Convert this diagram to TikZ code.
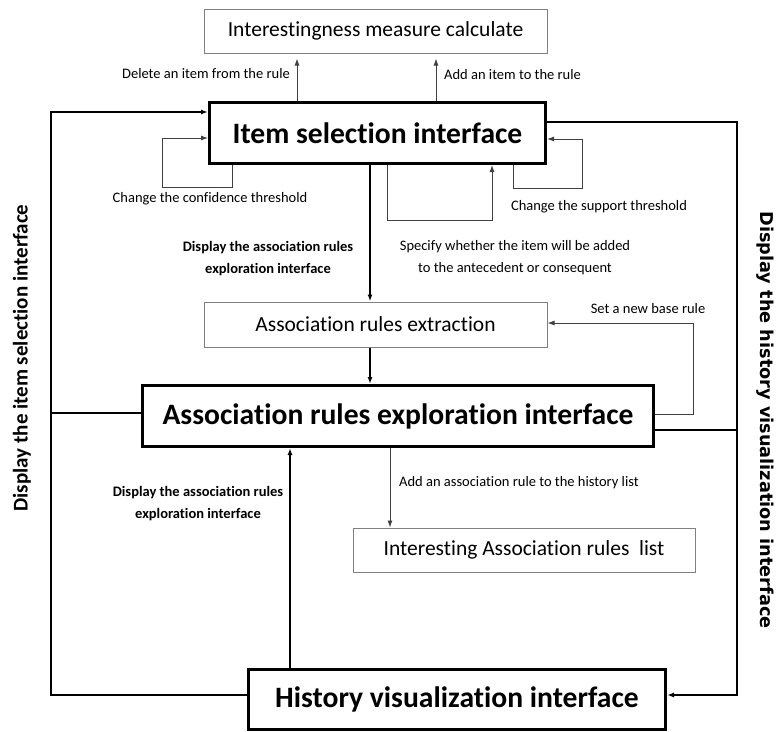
\documentclass[tikz,border=0pt]{standalone}
\usepackage{fontspec}
\setmainfont{Carlito}[Ligatures=NoCommon]
\newfontfamily\dv{DejaVu Sans}
\usetikzlibrary{arrows.meta}
\begin{document}
\begin{tikzpicture}[x=1pt,y=-1pt,
  thinbox/.style={draw=black!50,line width=1pt,inner sep=0pt,font=\fontsize{21.5}{26}\selectfont},
  thickbox/.style={draw=black,line width=3pt,inner sep=0pt,font=\fontsize{29.6}{34}\selectfont\bfseries},
  thinline/.style={draw=black!75,line width=0.9pt},
  thickline/.style={draw=black,line width=1.8pt},
  tip/.style={-{Latex[length=7pt,width=5pt]}},
  lbl/.style={font=\fontsize{14.5}{17}\selectfont,inner sep=0pt},
  blbl/.style={font=\fontsize{14.5}{22}\selectfont\bfseries,inner sep=0pt,align=center},
]
\useasboundingbox[fill=white] (0,0) rectangle (776,731);

% boxes
\node[thinbox,minimum width=343pt,minimum height=44pt] (IMC) at (375.5,31) {Interestingness measure calculate};
\node[thickbox,minimum width=336pt,minimum height=61pt] (ISI) at (377.5,133) {Item selection interface};
\node[thinbox,minimum width=343pt,minimum height=45pt] (ARX) at (375.5,324.5) {Association rules extraction};
\node[thickbox,minimum width=511pt,minimum height=61pt] (ARE) at (398,416) {Association rules exploration interface};
\node[thinbox,minimum width=342pt,minimum height=44pt] (IARL) at (524,550) {Interesting Association rules\ \ list};
\node[thickbox,minimum width=417pt,minimum height=60pt] (HVI) at (457,699) {\raisebox{4pt}{History visualization interface}};

% helper coordinates
\coordinate (xa) at (297,0);
\coordinate (xb) at (436,0);
\coordinate (yl) at (0,112);
\coordinate (yc) at (0,138);
\coordinate (ys) at (0,139);
\coordinate (yr) at (0,122);
\coordinate (ym) at (0,413);
\coordinate (yn) at (0,430);
\coordinate (yh) at (0,695);
\coordinate (ybr) at (0,323);
\coordinate (ybl) at (0,414);
\coordinate (xm) at (370,0);
\coordinate (xc) at (232,0);
\coordinate (xs) at (513,0);
\coordinate (xp) at (387,0);
\coordinate (xq) at (492,0);
\coordinate (xd) at (390,0);
\coordinate (xu) at (290,0);

% to interestingness
\draw[thinline,tip,shorten >=5pt] (ISI.north -| xa) -- (IMC.south -| xa);
\draw[thinline,tip,shorten >=5pt] (ISI.north -| xb) -- (IMC.south -| xb);
\node[lbl,anchor=east] (ldel) at (290,74) {Delete an item from the rule};
\node[lbl,anchor=west] (ladd) at (444,75) {Add an item to the rule};

% left big loop
\draw[thickline,tip] (HVI.west |- yh) -- (51,695) -- (51,112) -- (ISI.west |- yl);
\draw[thickline] (ARE.west |- ym) -- (51,413);
\node[font=\fontsize{21}{24}\selectfont\bfseries,rotate=90,inner sep=0pt] (lleft) at (22,358) {Display the item selection interface};

% right big loop
\draw[thickline,tip] (ISI.east |- yr) -- (737,122) -- (737,695) -- (HVI.east |- yh);
\draw[thickline] (ARE.east |- yn) -- (737,430);
\node[font=\fontsize{17.7}{20}\selectfont\dv\bfseries,rotate=-90,inner sep=0pt] (lright) at (765,420) {Display the history visualization interface};

% confidence loop
\draw[thinline,tip] (ISI.south -| xc) -- (232,187) -- (162,187) -- (162,138) -- (ISI.west |- yc);
\node[lbl] (lconf) at (210,199) {Change the confidence threshold};

% support loop
\draw[thinline,tip] (ISI.south -| xs) -- (513,188) -- (582,188) -- (582,139) -- (ISI.east |- ys);
\node[lbl] (lsup) at (599,207) {Change the support threshold};

% specify loop
\draw[thinline,tip] (ISI.south -| xp) -- (387,220) -- (492,220) -- (ISI.south -| xq);
\node[lbl,align=center,font=\fontsize{14.5}{22}\selectfont] (lspec) at (515,258) {Specify whether the item will be added\\to the antecedent or consequent};

% main flow
\draw[thickline,tip] (ISI.south -| xm) -- (ARX.north -| xm);
\node[blbl] (ldisp1) at (268,259) {Display the association rules\\exploration interface};
\draw[thickline,tip] (ARX.south -| xm) -- (ARE.north -| xm);

% base rule loop
\draw[thinline,tip] (ARE.east |- ybl) -- (693,414) -- (693,323) -- (ARX.east |- ybr);
\node[lbl] (lbase) at (648,309) {Set a new base rule};

% to history list
\draw[thinline,tip] (ARE.south -| xd) -- (IARL.north -| xd);
\node[lbl,anchor=west] (lhist) at (399,483) {Add an association rule to the history list};

% history to exploration
\draw[thickline,tip] (HVI.north -| xu) -- (ARE.south -| xu);
\node[blbl] (ldisp2) at (198,504) {Display the association rules\\exploration interface};
\end{tikzpicture}
\end{document}
